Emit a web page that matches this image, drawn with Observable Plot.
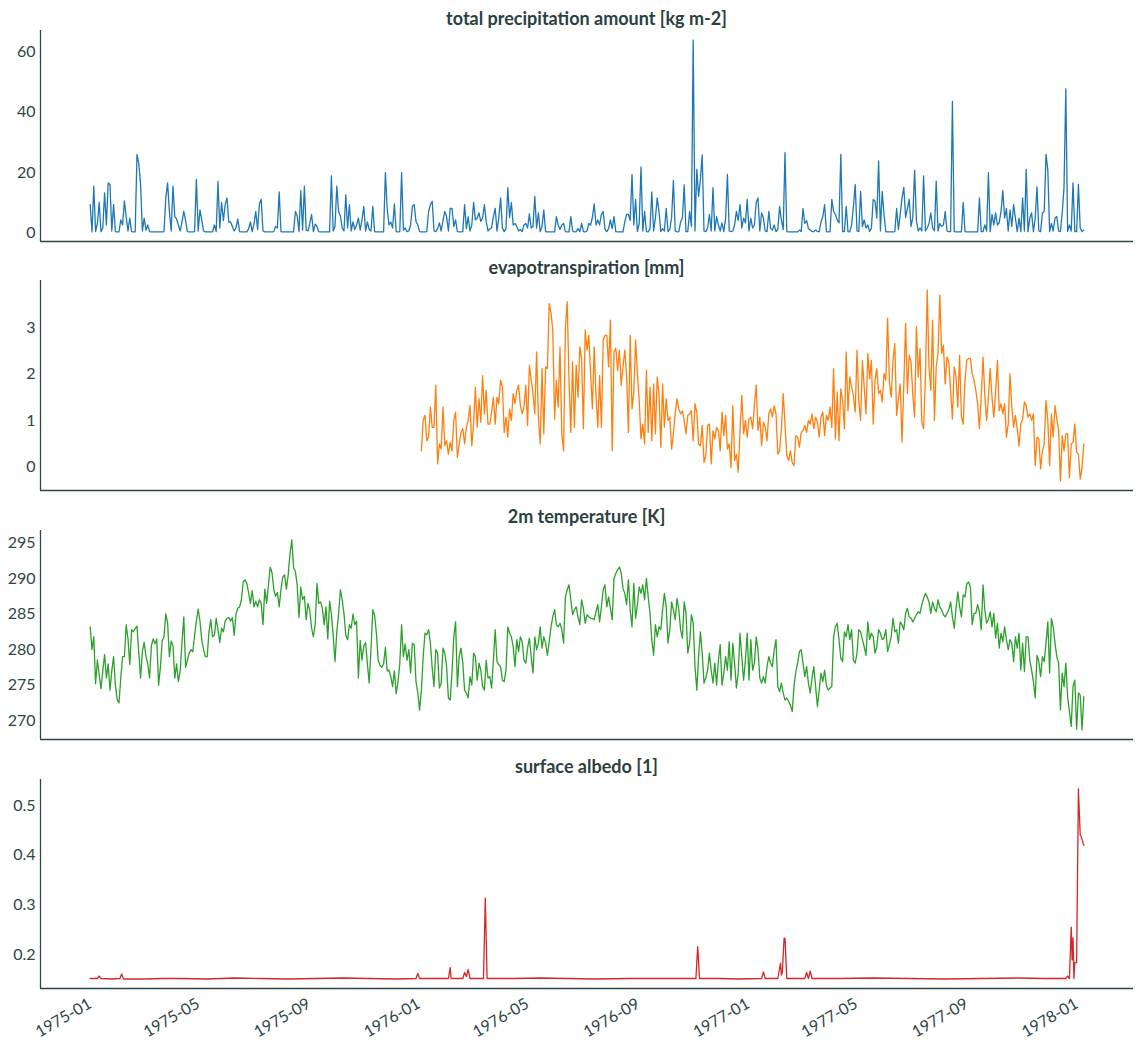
<!DOCTYPE html>
<html>
<head>
<meta charset="utf-8">
<script src="https://cdn.jsdelivr.net/npm/d3@7"></script>
<script src="https://cdn.jsdelivr.net/npm/@observablehq/plot@0.6"></script>
<style>
  body { margin: 0; background: #ffffff; }
  #fig { position: relative; width: 1142px; height: 1046px; font-family: Lato, "Noto Sans", sans-serif; color: #2b4141; }
  .panel { position: absolute; left: 0; }
  .title { position: absolute; left: 40px; width: 1093px; text-align: center; font-weight: 700; font-size: 18px; line-height: 20px; }
</style>
</head>
<body>
<div id="fig"></div>
<script>
// Daily series sampled every other day, starting 1975-01-01
const seriesStart = "1975-01-01";
const stepDays = 2;

const precipitation = [
  9.3, 0.2, 15.4, 0.3, 3, 10, 0.3, 1.5, 13.2, 2.5,
  16.5, 16, 0.5, 9.3, 0.3, 0.2, 0.2, 4.2, 2.5, 10.5,
  5.3, 0.5, 4.8, 0.3, 0.2, 0.2, 26, 23, 16, 0.5,
  4.8, 0.8, 2.5, 0.3, 0.2, 0.2, 0.2, 0.2, 0.2, 0.2,
  0.2, 0.3, 11.5, 16.5, 7, 0.5, 15.4, 5.3, 4.5, 2.5,
  0.5, 3.5, 7, 4, 0.3, 0.2, 0.2, 0.2, 0.3, 17.7,
  0.5, 7.5, 4, 0.5, 0.2, 0.2, 0.2, 0.2, 0.2, 2.5,
  0.3, 17, 1.5, 10, 4, 9.3, 11.5, 3.5, 3.5, 2,
  0.5, 1.5, 4.5, 0.3, 0.2, 0.2, 0.2, 0.2, 1.2, 3.5,
  0.3, 2.8, 7, 1, 9.5, 11, 0.5, 0.2, 0.2, 0.2,
  0.2, 0.2, 0.3, 2, 1.5, 13.5, 0.3, 0.2, 0.2, 0.2,
  0.2, 0.2, 0.2, 0.2, 7, 5.5, 0.3, 14, 0.8, 15.4,
  0.8, 0.5, 3, 6, 0.3, 2.8, 2, 0.3, 0.2, 0.2,
  0.2, 0.2, 0.2, 0.2, 18.8, 0.5, 2, 15.4, 7, 5.5,
  1.5, 0.5, 12.5, 1.5, 9.3, 0.5, 3.5, 1, 2.5, 4.8,
  0.8, 4.2, 8.7, 0.5, 3.5, 1, 0.5, 8.7, 0.3, 0.2,
  0.2, 0.2, 0.2, 0.2, 19.9, 8, 2.5, 3.5, 1.5, 9.5,
  0.3, 0.2, 0.3, 19.9, 0.8, 1.5, 0.3, 0.5, 2.5, 8.7,
  9.3, 3.7, 2.5, 0.3, 0.2, 0.2, 0.2, 0.3, 7, 9.3,
  10.4, 0.5, 0.3, 1.3, 3.2, 0.5, 4, 7, 5.3, 0.5,
  8, 8, 2, 4.2, 0.3, 0.2, 0.2, 0.3, 9.3, 1.3,
  5.3, 0.5, 2.5, 10, 4.2, 4.8, 6.5, 3.7, 4.8, 9.3,
  3.7, 0.5, 1.2, 1.5, 5.3, 8, 0.5, 4.8, 11.5, 1.5,
  0.3, 1.3, 14.9, 5, 10, 2.5, 3, 2, 0.5, 1,
  0.3, 2.5, 3, 1.5, 6.2, 1.5, 2, 12, 1.5, 6.5,
  0.3, 2, 7.5, 0.3, 0.2, 0.2, 0.2, 0.2, 0.2, 5.3,
  2.5, 1, 2.5, 3, 0.3, 0.2, 0.2, 5.3, 0.5, 0.2,
  0.3, 1.3, 0.3, 3, 0.3, 0.2, 0.5, 3, 2.5, 5,
  9.5, 2.5, 4.2, 2.5, 6, 7, 1, 0.3, 1.3, 4.2,
  1.3, 5.3, 0.3, 0.2, 0.2, 0.2, 0.2, 3.5, 6, 6,
  4, 19.3, 2.5, 11, 0.3, 3, 21.8, 0.5, 7, 0.3,
  0.2, 1.3, 13.5, 0.5, 4.8, 11.5, 7, 0.3, 1.3, 0.5,
  8, 0.3, 1, 5, 17.3, 0.5, 0.2, 0.3, 3.5, 4.8,
  15.8, 0.3, 0.3, 7, 2, 64, 0.5, 21, 12, 17.7,
  25.8, 0.5, 0.3, 1.5, 6, 0.5, 14.9, 0.5, 5.3, 2.5,
  0.5, 3.2, 0.3, 4.8, 19.3, 0.5, 0.3, 0.5, 2.5, 7,
  4, 9.3, 1.5, 4.8, 3.2, 11, 0.5, 4.8, 1.5, 2.5,
  10, 11.5, 0.5, 6.5, 4.8, 0.5, 0.3, 7, 1.3, 0.8,
  2.5, 0.3, 1, 8.7, 4, 1, 26.6, 0.3, 0.2, 0.2,
  0.2, 0.2, 0.2, 0.2, 0.8, 0.3, 8, 3, 4, 1.3,
  0.8, 0.3, 0.3, 0.8, 0.3, 0.3, 3.5, 5.3, 9.3, 0.3,
  0.2, 0.3, 11, 7, 6, 4.2, 3.2, 26, 0.3, 0.3,
  8.7, 0.3, 0.2, 2.5, 8.7, 16, 0.5, 0.3, 13.7, 2,
  4.2, 1.5, 2.5, 0.3, 1.5, 11, 10.5, 4.8, 23.8, 0.5,
  13.7, 6, 0.3, 0.2, 0.2, 0.2, 0.2, 0.3, 8, 1,
  5.9, 11.5, 15, 5, 8, 11, 2, 5, 20.7, 4,
  0.5, 1.5, 0.5, 18.8, 0.5, 1.5, 3, 6.5, 1.5, 0.5,
  17.1, 0.5, 3, 2, 2.5, 7, 0.5, 0.3, 0.3, 43.6,
  0.3, 0.2, 0.2, 0.2, 0.2, 10, 0.3, 0.2, 0.2, 0.2,
  0.2, 0.2, 0.2, 0.2, 11.5, 0.3, 0.3, 2.5, 0.5, 19.9,
  0.3, 6, 2.5, 6.5, 2.5, 3.2, 7, 14, 4.8, 8,
  0.5, 7.5, 2, 9.3, 4.8, 0.3, 4.8, 0.3, 11.5, 0.5,
  21, 0.3, 4.8, 6.5, 0.3, 4.8, 15.2, 0.5, 0.3, 6.5,
  7, 26, 20.8, 0.3, 3, 0.5, 4.8, 5.3, 0.5, 0.3,
  6.5, 15, 47.8, 0.3, 2.5, 0.5, 16.5, 0.3, 0.3, 16,
  1.5, 0.3, 0.8
];

// Evapotranspiration record begins later, same 2-day step
const evapotranspirationStart = "1976-01-04";
const evapotranspiration = [
  0.34, 1.0, 1.11, 0.56, 0.64, 1.29, 0.85, 0.85, 1.76, 0.06,
  0.49, 0.38, 1.29, 0.45, 0.56, 0.27, 0.53, 0.34, 1.0, 1.18,
  0.2, 0.49, 0.74, 0.82, 0.49, 0.85, 1.0, 1.32, 0.45, 0.92,
  1.72, 0.85, 1.47, 0.96, 1.97, 1.14, 1.65, 0.92, 0.92, 1.18,
  1.5, 0.92, 1.5, 1.36, 1.87, 1.72, 0.74, 1.07, 0.64, 1.25,
  1.0, 1.58, 1.36, 1.65, 1.76, 1.32, 1.14, 1.29, 1.76, 0.89,
  2.19, 1.87, 1.58, 1.14, 2.48, 1.07, 0.49, 2.12, 0.71, 2.16,
  2.12, 3.53, 3.32, 2.95, 1.03, 1.87, 1.29, 2.59, 0.71, 0.34,
  2.99, 3.57, 1.87, 0.74, 2.27, 0.85, 2.19, 1.5, 2.59, 2.34,
  0.82, 2.95, 2.52, 2.84, 2.01, 1.25, 2.59, 1.54, 0.85, 1.97,
  0.85, 2.74, 2.84, 2.84, 2.16, 3.17, 0.34, 2.48, 2.56, 2.08,
  2.52, 1.76, 2.16, 2.52, 1.97, 0.74, 2.84, 1.25, 1.61, 2.74,
  2.01, 1.43, 0.6, 0.92, 0.49, 2.08, 0.74, 1.72, 0.56, 1.79,
  0.71, 1.94, 1.58, 0.42, 1.79, 0.85, 1.47, 1.0, 1.07, 0.38,
  0.71, 1.14, 1.47, 1.25, 1.14, 1.21, 1.0, 0.71, 1.11, 1.14,
  1.21, 0.56, 1.36, 1.18, 0.49, 0.45, 0.89, 0.09, 0.24, 0.89,
  0.92, 0.06, 0.78, 0.6, 0.85, 0.78, 0.34, 1.18, 0.67, 1.11,
  0.38, 0.49, -0.02, 1.32, 0.13, 0.27, -0.12, 0.78, 1.54, 0.71,
  1.0, 0.64, 1.03, 1.07, 0.82, 1.32, 1.76, 0.78, 1.07, 0.45,
  0.96, 0.85, 0.56, 1.14,
  1.25, 1.07, 1.32, 1.14, 0.27, 0.34, 0.82, 1.58, 0.92, 0.24,
  0.13, 0.34, 0.09, 0.02, 0.67, 0.64, 0.42, 0.74, 0.78, 0.89,
  0.74, 1.0, 0.92, 1.14, 0.82, 1.07, 0.96, 0.64, 1.07, 1.18,
  0.67, 1.11, 1.0, 1.29, 0.85, 2.12, 0.6, 1.61, 0.56, 1.68,
  1.43, 0.82, 2.48, 1.21, 1.94, 1.72, 1.54, 1.18, 2.52, 1.4,
  1.0, 2.3, 1.72, 1.14, 2.45, 1.9, 2.3, 0.92, 1.87, 2.12,
  1.58, 1.65, 1.4, 2.01, 1.87, 3.21, 1.83, 1.5, 2.3, 2.66,
  1.11, 1.47, 1.79, 0.53, 1.76, 3.1, 1.58, 2.41, 2.27, 1.54,
  1.07, 3.03, 1.94, 2.55, 0.96, 0.82, 1.94, 3.82, 2.16, 1.65,
  3.17, 1.0, 2.16, 2.45, 3.71, 2.45, 2.63, 1.79, 2.37, 2.26,
  1.65, 1.03, 2.16, 1.94, 1.29, 2.41, 1.07, 0.92, 1.87, 2.3,
  2.34, 2.34, 2.01, 1.87, 1.65, 1.36, 0.82, 1.5, 2.37, 1.54,
  1.0, 1.5, 2.12, 1.5, 1.07, 1.61, 2.3, 1.21, 1.36, 1.14,
  1.36, 0.64, 0.92, 2.01, 1.29, 0.85, 1.11, 0.82, 0.45, 0.92,
  1.03, 1.4, 1.32, 1.07, 1.14, 1.0, 1.14, 0.02, 0.64, 0.6,
  -0.05, 0.34, 0.49, 1.43, 1.0, 0.02, 1.14, 0.64, 1.32, 1.03,
  0.78, -0.31, 0.67, 0.34, 0.71, 0.71, -0.24, 0.49, 0.53, 0.92,
  0.31, 0.27, -0.27, -0.02, 0.49
];

const temperature = [
  283.2, 280.0, 281.8, 275.2, 278.5, 276.5, 274.5, 277.0, 279.3, 276.0,
  278.0, 274.3, 277.0, 279.0, 275.0, 273.0, 272.5, 276.0, 279.0, 279.0,
  283.5, 281.5, 277.9, 282.8, 282.5, 283.0, 283.3, 279.5, 276.0, 279.8,
  281.0, 279.0, 278.0, 276.0, 280.5, 281.5, 280.8, 281.5, 275.0, 277.5,
  281.2, 281.8, 285.0, 283.8, 279.0, 281.2, 280.5, 276.0, 278.0, 275.5,
  277.0, 281.0, 284.6, 277.5, 278.5, 279.5, 280.0, 279.7, 282.0, 284.0,
  285.7, 284.0, 281.3, 280.0, 279.0, 279.0, 282.5, 284.2, 281.8, 282.0,
  284.4, 282.8, 281.0, 283.0, 282.5, 284.0, 284.4, 284.5, 284.0, 284.5,
  282.0, 285.0, 285.8, 286.0, 287.0, 289.5, 289.8, 289.3, 288.0, 286.5,
  288.3, 286.0, 286.8, 286.0, 287.0, 286.5, 283.5, 288.5, 286.5, 289.0,
  291.6, 290.8, 288.5, 287.5, 288.0, 286.0, 288.5, 290.2, 290.5, 288.5,
  290.5, 293.5, 295.4, 291.5, 291.0, 289.0, 284.5, 288.8, 287.0, 287.5,
  284.2, 286.5, 285.5, 283.0, 281.8, 283.5, 289.3, 286.5, 286.7, 285.8,
  283.5, 286.0, 281.5, 286.8, 285.0, 282.0, 278.3, 282.5, 285.0, 288.4,
  287.0, 285.0, 282.0, 281.4, 283.5, 283.0, 285.0, 283.5, 284.0, 276.0,
  281.3, 278.5, 280.5, 281.0, 278.0, 275.3, 280.0, 285.6, 284.8, 282.3,
  278.5, 277.8, 277.5, 278.0, 280.3, 277.0, 277.1, 276.2, 274.8, 277.0,
  273.8, 275.5, 278.0, 283.5, 279.0, 280.8, 278.5, 280.0,
  276.7, 280.9, 280.7, 275.5, 273.9, 271.5, 274.3, 279.0, 282.3, 282.1,
  282.8, 280.9, 277.4, 274.8, 280.0, 279.5, 274.6, 275.3, 280.2, 279.5,
  277.6, 273.2, 272.9, 276.7, 281.8, 283.9, 274.8, 279.0, 280.2, 278.1,
  274.3, 273.9, 273.2, 276.2, 275.0, 279.5, 279.0, 275.7, 278.1, 277.1,
  274.8, 274.3, 278.5, 276.0, 276.2, 274.6, 278.5, 282.8, 278.3, 277.9,
  277.6, 275.7, 275.5, 277.1, 283.2, 282.3, 281.8, 280.4, 277.6, 281.4,
  279.7, 281.8, 281.1, 278.5, 278.1, 280.2, 281.6, 279.0, 276.7, 281.8,
  280.0, 280.9, 283.2, 280.2, 281.8, 280.9, 279.2, 281.1, 283.2, 284.6,
  285.6, 283.5, 283.2, 283.7, 282.8, 280.9, 287.4, 288.4, 289.1, 287.0,
  284.9, 285.6, 286.0, 284.6, 283.5, 287.0, 285.8, 283.7, 284.9, 284.6,
  284.4, 284.4, 284.2, 285.3, 286.3, 283.9, 286.0, 288.4, 289.1, 286.0,
  287.4, 285.8, 284.2, 290.0, 290.7, 291.2, 291.6, 290.7, 288.6, 287.9,
  286.3, 289.8, 285.6, 283.2, 289.3, 284.4, 286.3, 288.8, 287.9, 289.1,
  287.0, 290.0, 287.4, 285.1, 281.4, 279.2, 283.5, 281.8, 283.2, 282.8,
  285.6, 287.9, 286.0, 280.9, 282.8, 286.7, 285.6, 284.2, 287.2, 285.6,
  282.8, 281.6, 286.7, 285.1, 279.5, 280.9, 284.9, 283.7, 277.6, 274.3,
  279.0, 282.5, 279.5, 275.3, 276.0, 277.1, 279.5, 277.1, 275.3, 278.1,
  275.0, 278.5, 280.7, 275.0, 276.7, 279.0, 277.1, 281.1, 275.7, 280.9,
  278.1, 274.6, 276.7, 282.3, 279.0, 275.7, 278.5, 282.3, 275.7, 281.4,
  277.1, 278.1, 281.8, 280.0, 276.0, 275.3, 276.2, 275.3, 277.6, 279.0,
  278.1, 277.6, 280.0, 281.4, 274.8, 274.1, 275.3, 273.9, 272.9, 273.2,
  272.7, 272.2, 271.3, 274.8, 276.9, 278.1, 279.7, 280.0, 278.1, 276.2,
  277.6, 275.3, 273.9, 276.0, 277.6, 274.8, 272.0, 274.3, 276.7, 275.5,
  277.1, 275.0, 274.3, 274.6, 274.8, 281.8, 283.2, 283.7, 281.4, 278.8,
  278.3, 282.5, 281.8, 283.5, 281.4, 282.8, 278.5, 278.1, 279.5, 282.8,
  282.5, 281.4, 280.4, 279.2, 283.9, 281.4, 282.3, 281.8, 279.5, 280.4,
  282.8, 282.3, 281.4, 281.6, 282.8, 279.7, 280.7, 281.8, 284.4, 282.5,
  282.8, 280.9, 283.9, 283.5, 282.8, 285.1, 285.8, 284.6, 284.4, 283.9,
  284.4, 284.9, 285.3, 285.1, 286.3, 287.2, 287.9, 287.4, 286.7, 285.1,
  286.7, 285.8, 285.3, 287.0, 286.0, 285.6, 284.9, 284.6, 285.1, 285.6,
  286.7, 284.6, 283.0, 285.8, 288.1, 286.0, 284.6, 287.7, 287.4, 289.3,
  289.5, 288.8, 283.5, 285.1, 285.1, 286.3, 285.3, 282.8, 289.1, 285.6,
  283.7, 284.2, 285.3, 283.2, 285.1, 281.6, 283.7, 280.2, 282.3, 281.1,
  283.2, 281.4, 280.0, 281.4, 280.9, 278.3, 281.8, 280.2, 282.3, 277.1,
  280.9, 276.9, 281.8, 281.8, 278.5, 277.1, 275.5, 273.2, 279.2, 278.3,
  276.2, 279.0, 278.3, 280.9, 283.9, 276.7, 284.4, 283.2, 280.9, 279.0,
  278.1, 271.5, 276.7, 274.8, 278.1, 273.4, 271.3, 269.2, 274.8, 275.7,
  268.8, 273.9, 273.6, 268.7, 273.4
];

// Albedo is flat most of the time: day offsets from seriesStart and the value on that day
const albedoDays = [
  0, 8, 10, 12, 24, 33, 35, 37, 60, 80,
  100, 130, 160, 190, 220, 250, 280, 310, 340, 362,
  364, 366, 398, 400, 401, 414, 416, 418, 420, 422,
  437, 439, 441, 470, 500, 530, 560, 600, 640, 673,
  675, 677, 700, 720, 746, 748, 750, 764, 767, 768,
  769, 771, 772, 774, 794, 796, 798, 800, 802, 830,
  870, 910, 950, 990, 1030, 1060, 1084, 1086, 1088, 1090,
  1091, 1092, 1093, 1094, 1095, 1096, 1098, 1100, 1101, 1104
];
const albedoValues = [
  0.153, 0.153, 0.158, 0.153, 0.152, 0.153, 0.162, 0.152, 0.152, 0.153,
  0.153, 0.152, 0.154, 0.153, 0.152, 0.153, 0.154, 0.153, 0.152, 0.153,
  0.163, 0.153, 0.153, 0.175, 0.153, 0.153, 0.165, 0.157, 0.171, 0.153,
  0.153, 0.314, 0.153, 0.153, 0.154, 0.153, 0.152, 0.153, 0.153, 0.153,
  0.217, 0.153, 0.153, 0.152, 0.153, 0.166, 0.153, 0.153, 0.184, 0.16,
  0.165, 0.234, 0.233, 0.153, 0.153, 0.165, 0.153, 0.168, 0.153, 0.153,
  0.154, 0.153, 0.152, 0.153, 0.154, 0.153, 0.153, 0.158, 0.153, 0.256,
  0.19, 0.235, 0.153, 0.185, 0.185, 0.185, 0.533, 0.44, 0.438, 0.42
];

const xTickDates = [
  "1975-01-01", "1975-05-01", "1975-09-01", "1976-01-01", "1976-05-01",
  "1976-09-01", "1977-01-01", "1977-05-01", "1977-09-01", "1978-01-01"
];

const titles = [
  "total precipitation amount [kg m-2]",
  "evapotranspiration [mm]",
  "2m temperature [K]",
  "surface albedo [1]"
];
const colors = ["#1f77b4", "#ff7f0e", "#2ca02c", "#d62728"];
const yTicks = [[0, 20, 40, 60], [0, 1, 2, 3], [270, 275, 280, 285, 290, 295], [0.2, 0.3, 0.4, 0.5]];

// ---- build tables ----
const parse = d3.utcParse("%Y-%m-%d");
const t0 = parse(seriesStart);
const stepped = (start, values) => {
  const s = parse(start);
  return values.map((v, i) => ({date: d3.utcDay.offset(s, i * stepDays), value: v}));
};
const albedo = albedoDays.map((d, i) => ({date: d3.utcDay.offset(t0, d), value: albedoValues[i]}));

const series = [
  stepped(seriesStart, precipitation),
  stepped(evapotranspirationStart, evapotranspiration),
  stepped(seriesStart, temperature),
  albedo
];

// panel plot-area extents (top, bottom) and title centre line
const layout = [
  {top: 30, bottom: 241, titleY: 18},
  {top: 280, bottom: 490, titleY: 267},
  {top: 530, bottom: 739, titleY: 516},
  {top: 779, bottom: 988, titleY: 766}
];

// 5% padding around the data, as the axes leave margins on each side
const padded = (lo, hi) => { const p = (hi - lo) * 0.05; return [lo - p, hi + p]; };
const [xa, xb] = d3.extent(series.flat(), d => d.date);
const xPad = (xb - xa) * 0.05;
const xDomain = [new Date(+xa - xPad), new Date(+xb + xPad)];

const ink = "#2d4646";
const fig = document.getElementById("fig");

series.forEach((data, i) => {
  const {top, bottom, titleY} = layout[i];
  const last = i === series.length - 1;
  const mt = 4, mb = last ? 1046 - bottom : 3;
  const yDomain = padded(...d3.extent(data, d => d.value));

  const chart = Plot.plot({
    width: 1142,
    height: bottom - top + mt + mb,
    marginTop: mt,
    marginBottom: mb,
    marginLeft: 40,
    marginRight: 9,
    style: {fontFamily: "Lato, 'Noto Sans', sans-serif", fontSize: "16px", color: ink, background: "transparent", overflow: "visible"},
    x: last
      ? {type: "utc", domain: xDomain, ticks: xTickDates.map(parse), tickFormat: d3.utcFormat("%Y-%m"),
         tickRotate: -30, tickSize: 0, tickPadding: 14, label: null}
      : {type: "utc", domain: xDomain, axis: null},
    y: {domain: yDomain, ticks: yTicks[i], tickSize: 0, tickPadding: 5, label: null,
        tickFormat: last ? d3.format(".1f") : d3.format("d")},
    marks: [
      Plot.line(data, {x: "date", y: "value", stroke: colors[i], strokeWidth: 1.3}),
      Plot.ruleX([xDomain[0]], {stroke: ink, strokeWidth: 1.3}),
      Plot.ruleY([yDomain[0]], {stroke: ink, strokeWidth: 1.3})
    ]
  });
  chart.classList.add("panel");
  chart.style.top = (top - mt) + "px";
  fig.appendChild(chart);

  const t = document.createElement("div");
  t.className = "title";
  t.style.top = (titleY - 10) + "px";
  t.textContent = titles[i];
  fig.appendChild(t);
});
</script>
</body>
</html>
